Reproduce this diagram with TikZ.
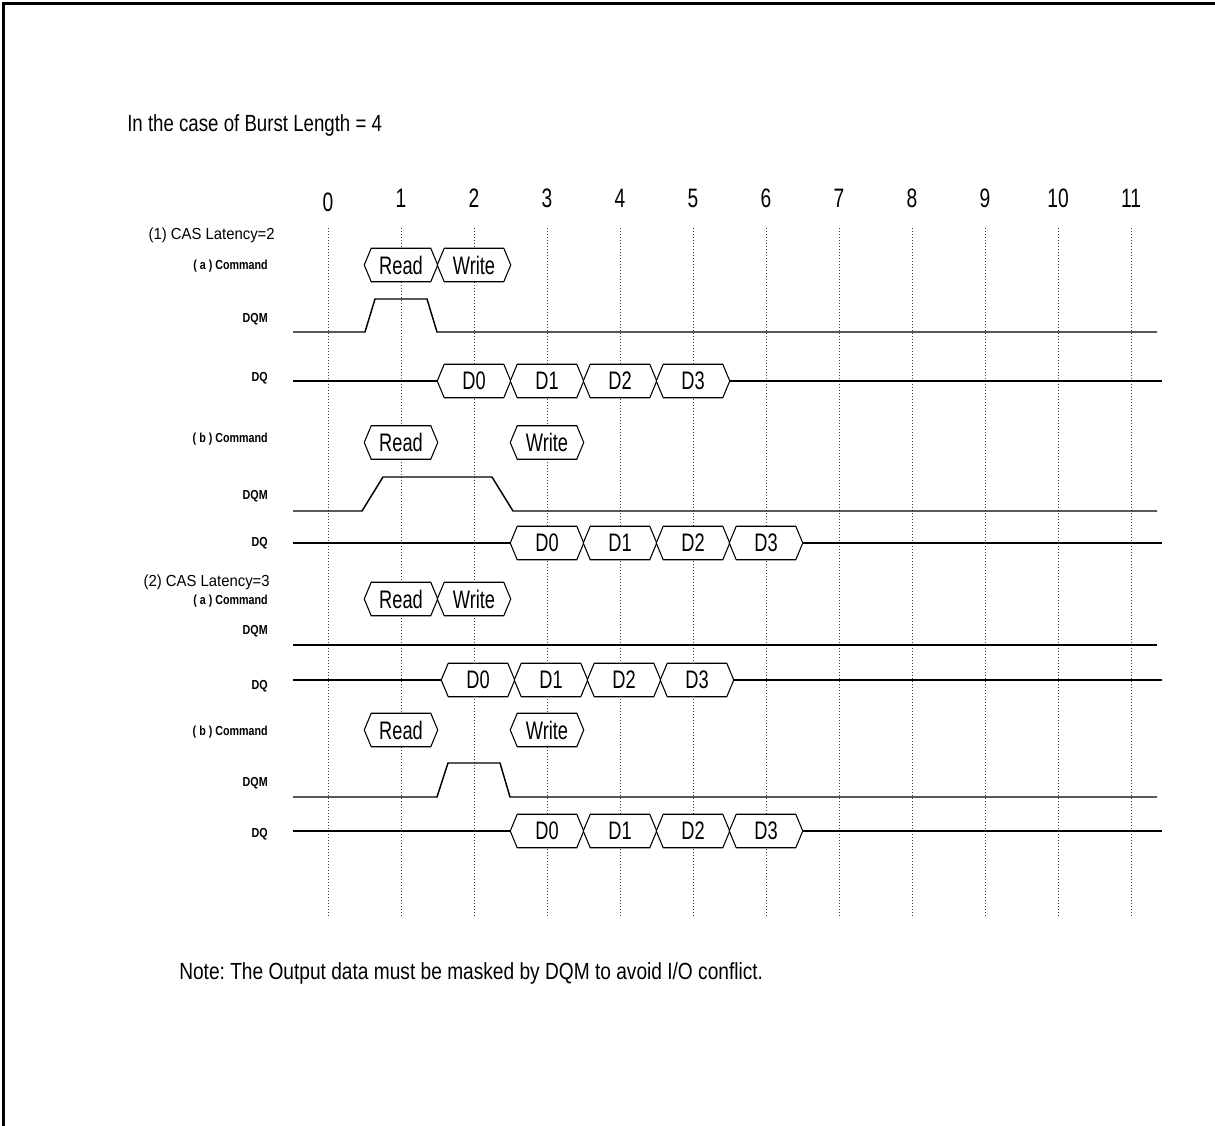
\documentclass[tikz,border=0pt]{standalone}
\usepackage{fontspec}
\setmainfont{Liberation Sans}
\newfontfamily\titlefont[FakeStretch=0.8]{Liberation Sans}
\newfontfamily\notefont[FakeStretch=0.82]{Liberation Sans}
\newfontfamily\boxfont[FakeStretch=0.72]{Liberation Sans}
\newfontfamily\labfont[FakeStretch=0.82]{Liberation Sans}
\newfontfamily\casfont[FakeStretch=0.93]{Liberation Sans}
\frenchspacing

\tikzset{
 sig/.style={line width=1.1pt, line join=miter},
 boxline/.style={line width=0.8pt, line join=miter},
 boxfill/.style={fill=white},
 gridline/.style={line width=0.6pt, black!75, dash pattern=on 0.75pt off 1.5pt},
 hexn/.style={minimum width=54.75pt, minimum height=24.75pt, inner sep=0pt, font=\boxfont\fontsize{19}{22}\selectfont},
 numlab/.style={font=\boxfont\fontsize{20}{24}\selectfont, inner sep=0pt},
 siglab/.style={font=\labfont\bfseries\fontsize{9.8}{11}\selectfont, anchor=base east, inner sep=0pt},
 caslab/.style={font=\casfont\fontsize{12}{14}\selectfont, anchor=base east, inner sep=0pt},
}

% hexagonal bus box: white fill, text node, outline
\newcommand{\hx}[4]{%
  \path[boxfill] (#2-36.5,#3) -- (#2-29.5,#3-16.5) -- (#2+29.5,#3-16.5) -- (#2+36.5,#3) -- (#2+29.5,#3+16.5) -- (#2-29.5,#3+16.5) -- cycle;
  \node[hexn] (#1) at (#2,#3) {#4};
  \draw[boxline] (#1.west) -- ([xshift=5.25pt]#1.north west) -- ([xshift=-5.25pt]#1.north east) -- (#1.east) -- ([xshift=-5.25pt]#1.south east) -- ([xshift=5.25pt]#1.south west) -- cycle;}

\begin{document}
\begin{tikzpicture}[x=0.75pt,y=-0.75pt]
\useasboundingbox (0,0) rectangle (1215,1126);
% frame
\draw[line width=1.9pt] (3.5,1126) -- (3.5,3.5) -- (1215,3.5);

% title
\node[anchor=base west, inner sep=0pt, font=\titlefont\fontsize{17.5}{21}\selectfont] (title) at (127,132) {In the case of Burst Length = 4};

% clock numbers and grid
\node[numlab] (n0) at (328,202) {0};
\foreach \i in {1,...,11} {
  \node[numlab] (n\i) at (328+73*\i,198) {\i};
}
\foreach \i in {0,...,11} {
  \draw[gridline] (328+73*\i,228) -- (328+73*\i,918);
}

% labels
\node[caslab] (cas2) at (275,240) {(1) CAS Latency=2};
\node[siglab] (c1a) at (268,270) {( a ) Command};
\node[siglab] (m1a) at (268,323) {DQM};
\node[siglab] (q1a) at (268,382) {DQ};
\node[siglab] (c1b) at (268,443) {( b ) Command};
\node[siglab] (m1b) at (268,500) {DQM};
\node[siglab] (q1b) at (268,547) {DQ};
\node[caslab] (cas3) at (270,587) {(2) CAS Latency=3};
\node[siglab] (c2a) at (268,605) {( a ) Command};
\node[siglab] (m2a) at (268,635) {DQM};
\node[siglab] (q2a) at (268,690) {DQ};
\node[siglab] (c2b) at (268,736) {( b ) Command};
\node[siglab] (m2b) at (268,787) {DQM};
\node[siglab] (q2b) at (268,837) {DQ};

% ===== (1)(a) =====
\hx{r1a}{401}{265}{Read}
\hx{w1a}{474}{265}{Write}
\draw[sig] (293,332) -- (365,332) -- (375,299) -- (427,299) -- (437,332) -- (1157,332);
\hx{d0a}{474}{381}{D0}
\hx{d1a}{547}{381}{D1}
\hx{d2a}{620}{381}{D2}
\hx{d3a}{693}{381}{D3}
\coordinate (q1as) at (293,381);
\coordinate (q1ae) at (1162,381);
\draw[sig] (q1as) -- (d0a.west);
\draw[sig] (d3a.east) -- (q1ae);

% ===== (1)(b) =====
\hx{r1b}{401}{442.5}{Read}
\hx{w1b}{547}{442.5}{Write}
\draw[sig] (293,511) -- (362,511) -- (383,477) -- (492,477) -- (513,511) -- (1157,511);
\hx{d0b}{547}{543}{D0}
\hx{d1b}{620}{543}{D1}
\hx{d2b}{693}{543}{D2}
\hx{d3b}{766}{543}{D3}
\coordinate (q1bs) at (293,543);
\coordinate (q1be) at (1162,543);
\draw[sig] (q1bs) -- (d0b.west);
\draw[sig] (d3b.east) -- (q1be);

% ===== (2)(a) =====
\hx{r2a}{401}{599}{Read}
\hx{w2a}{474}{599}{Write}
\draw[sig] (293,645) -- (1157,645);
\hx{d0c}{478}{680}{D0}
\hx{d1c}{551}{680}{D1}
\hx{d2c}{624}{680}{D2}
\hx{d3c}{697}{680}{D3}
\coordinate (q2as) at (293,680);
\coordinate (q2ae) at (1162,680);
\draw[sig] (q2as) -- (d0c.west);
\draw[sig] (d3c.east) -- (q2ae);

% ===== (2)(b) =====
\hx{r2b}{401}{730}{Read}
\hx{w2b}{547}{730}{Write}
\draw[sig] (293,797) -- (437,797) -- (448,763) -- (500,763) -- (510,797) -- (1157,797);
\hx{d0d}{547}{831}{D0}
\hx{d1d}{620}{831}{D1}
\hx{d2d}{693}{831}{D2}
\hx{d3d}{766}{831}{D3}
\coordinate (q2bs) at (293,831);
\coordinate (q2be) at (1162,831);
\draw[sig] (q2bs) -- (d0d.west);
\draw[sig] (d3d.east) -- (q2be);

% note
\node[anchor=base west, inner sep=0pt, font=\notefont\fontsize{17.5}{21}\selectfont] (note) at (179,979) {Note: The Output data must be masked by DQM to avoid I/O conflict.};
\end{tikzpicture}
\end{document}
